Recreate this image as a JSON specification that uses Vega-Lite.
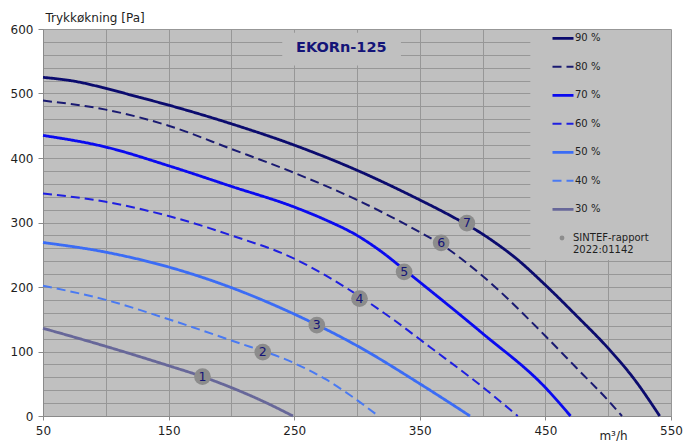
{
  "$schema": "https://vega.github.io/schema/vega-lite/v6.json",
  "width": 628,
  "height": 387,
  "autosize": {"type": "none"},
  "padding": {"left": 43, "top": 29, "right": 13, "bottom": 25},
  "background": "white",
  "config": {
    "view": {"fill": "#c0c0c0", "stroke": null},
    "font": "DejaVu Sans",
    "text": {"font": "DejaVu Sans"}
  },
  "resolve": {"axis": {"x": "independent", "y": "independent"}},
  "datasets": {
    "curves": [
      {"s": "90 %", "x": 50, "y": 525}, {"s": "90 %", "x": 75, "y": 519}, {"s": "90 %", "x": 100, "y": 508}, {"s": "90 %", "x": 125, "y": 495}, {"s": "90 %", "x": 150, "y": 482}, {"s": "90 %", "x": 200, "y": 453}, {"s": "90 %", "x": 250, "y": 420}, {"s": "90 %", "x": 300, "y": 381}, {"s": "90 %", "x": 350, "y": 335}, {"s": "90 %", "x": 375, "y": 310}, {"s": "90 %", "x": 400, "y": 282}, {"s": "90 %", "x": 412, "y": 266}, {"s": "90 %", "x": 425, "y": 247}, {"s": "90 %", "x": 450, "y": 203}, {"s": "90 %", "x": 475, "y": 155}, {"s": "90 %", "x": 500, "y": 105}, {"s": "90 %", "x": 520, "y": 59}, {"s": "90 %", "x": 541, "y": 0},
      {"s": "80 %", "x": 50, "y": 489}, {"s": "80 %", "x": 100, "y": 475}, {"s": "80 %", "x": 150, "y": 450}, {"s": "80 %", "x": 200, "y": 414}, {"s": "80 %", "x": 250, "y": 377}, {"s": "80 %", "x": 300, "y": 335}, {"s": "80 %", "x": 350, "y": 285}, {"s": "80 %", "x": 367, "y": 266}, {"s": "80 %", "x": 400, "y": 217}, {"s": "80 %", "x": 450, "y": 124}, {"s": "80 %", "x": 475, "y": 74}, {"s": "80 %", "x": 500, "y": 24}, {"s": "80 %", "x": 511, "y": 0},
      {"s": "70 %", "x": 50, "y": 435}, {"s": "70 %", "x": 100, "y": 417}, {"s": "70 %", "x": 150, "y": 388}, {"s": "70 %", "x": 200, "y": 356}, {"s": "70 %", "x": 250, "y": 324}, {"s": "70 %", "x": 275, "y": 304}, {"s": "70 %", "x": 300, "y": 280}, {"s": "70 %", "x": 320, "y": 254}, {"s": "70 %", "x": 337.5, "y": 227}, {"s": "70 %", "x": 358, "y": 195}, {"s": "70 %", "x": 400, "y": 128}, {"s": "70 %", "x": 450, "y": 44}, {"s": "70 %", "x": 470, "y": 0},
      {"s": "60 %", "x": 50, "y": 345}, {"s": "60 %", "x": 100, "y": 332}, {"s": "60 %", "x": 150, "y": 310}, {"s": "60 %", "x": 200, "y": 280}, {"s": "60 %", "x": 250, "y": 244}, {"s": "60 %", "x": 275, "y": 218}, {"s": "60 %", "x": 300, "y": 188}, {"s": "60 %", "x": 330, "y": 148}, {"s": "60 %", "x": 358, "y": 107}, {"s": "60 %", "x": 400, "y": 45}, {"s": "60 %", "x": 428, "y": 0},
      {"s": "50 %", "x": 50, "y": 269}, {"s": "50 %", "x": 100, "y": 254}, {"s": "50 %", "x": 150, "y": 231}, {"s": "50 %", "x": 200, "y": 199}, {"s": "50 %", "x": 250, "y": 158}, {"s": "50 %", "x": 300, "y": 109}, {"s": "50 %", "x": 350, "y": 50}, {"s": "50 %", "x": 390, "y": 0},
      {"s": "40 %", "x": 50, "y": 202}, {"s": "40 %", "x": 100, "y": 180}, {"s": "40 %", "x": 150, "y": 150}, {"s": "40 %", "x": 200, "y": 117}, {"s": "40 %", "x": 250, "y": 82}, {"s": "40 %", "x": 275, "y": 57}, {"s": "40 %", "x": 294, "y": 33}, {"s": "40 %", "x": 317, "y": 0},
      {"s": "30 %", "x": 50, "y": 136}, {"s": "30 %", "x": 100, "y": 108}, {"s": "30 %", "x": 150, "y": 78}, {"s": "30 %", "x": 177, "y": 61}, {"s": "30 %", "x": 200, "y": 44}, {"s": "30 %", "x": 225, "y": 23}, {"s": "30 %", "x": 249, "y": 0}
    ],
    "points": [
      {"n": "1", "x": 177, "y": 61, "src": "SINTEF-rapport|2022:01142"},
      {"n": "2", "x": 225, "y": 99, "src": "SINTEF-rapport|2022:01142"},
      {"n": "3", "x": 268, "y": 141, "src": "SINTEF-rapport|2022:01142"},
      {"n": "4", "x": 302, "y": 182, "src": "SINTEF-rapport|2022:01142"},
      {"n": "5", "x": 337.5, "y": 223.5, "src": "SINTEF-rapport|2022:01142"},
      {"n": "6", "x": 367, "y": 268.5, "src": "SINTEF-rapport|2022:01142"},
      {"n": "7", "x": 387.5, "y": 299, "src": "SINTEF-rapport|2022:01142"}
    ]
  },
  "layer": [
    {
      "data": {"values": [{}]},
      "mark": {"type": "rect", "fill": "#c0c0c0"},
      "encoding": {
        "x": {"datum": 438, "type": "quantitative",
          "axis": {"orient": "bottom", "values": [50, 100, 150, 200, 250, 300, 350, 400, 450, 500, 550], "grid": true, "gridColor": "#979797", "gridWidth": 1, "labels": false, "ticks": false, "domain": false, "title": null}},
        "x2": {"datum": 550},
        "y": {"datum": 242, "type": "quantitative",
          "axis": {"orient": "left", "values": [0, 20, 40, 60, 80, 100, 120, 140, 160, 180, 200, 220, 240, 260, 280, 300, 320, 340, 360, 380, 400, 420, 440, 460, 480, 500, 520, 540, 560, 580, 600], "grid": true, "gridColor": "#979797", "gridWidth": 1, "labels": false, "ticks": false, "domain": false, "title": null}},
        "y2": {"datum": 598.5}
      }
    },
    {
      "data": {"values": [{}]},
      "mark": {"type": "rect", "fill": "#c0c0c0"},
      "encoding": {
        "x": {"datum": 240.5, "type": "quantitative", "axis": null},
        "x2": {"datum": 335},
        "y": {"datum": 543.5, "type": "quantitative", "axis": null},
        "y2": {"datum": 594}
      }
    },
    {
      "data": {"name": "curves"},
      "mark": {"type": "line", "interpolate": "monotone"},
      "encoding": {
        "x": {
          "field": "x", "type": "quantitative",
          "scale": {"domain": [50, 550], "nice": false, "zero": false},
          "axis": {
            "orient": "bottom",
            "title": "m³/h",
            "values": [50, 150, 250, 350, 450, 550],
            "grid": false,
            "domainColor": "#8a8a8a", "tickColor": "#8a8a8a", "tickSize": 4,
            "labelPadding": 5, "labelFontSize": 12, "labelColor": "#1e1e1e",
            "labelFlush": false, "labelOverlap": false,
            "titleX": 570, "titleY": 19, "titleAlign": "center", "titleBaseline": "middle",
            "titleFontWeight": "normal", "titleFontSize": 12, "titleColor": "#1e1e1e"
          }
        },
        "y": {
          "field": "y", "type": "quantitative",
          "scale": {"domain": [0, 600], "nice": false},
          "axis": {
            "orient": "left",
            "title": "Trykkøkning [Pa]",
            "values": [0, 100, 200, 300, 400, 500, 600],
            "grid": false,
            "domainColor": "#8a8a8a", "tickColor": "#8a8a8a", "tickSize": 5,
            "labelPadding": 5, "labelFontSize": 12, "labelColor": "#1e1e1e", "labelOverlap": false, "labelFlush": false,
            "titleAngle": 0, "titleAlign": "left", "titleBaseline": "middle", "titleX": 2, "titleY": -12,
            "titleFontWeight": "normal", "titleFontSize": 12, "titleColor": "#1e1e1e"
          }
        },
        "color": {
          "field": "s", "type": "nominal",
          "scale": {"domain": ["90 %", "80 %", "70 %", "60 %", "50 %", "40 %", "30 %"], "range": ["#0b0b6e", "#1a1a72", "#0a0aef", "#1f1fe0", "#3b6cf5", "#4a7af2", "#676799"]},
          "legend": {
            "orient": "none", "legendX": 508, "legendY": -4.5, "title": null,
            "symbolType": "stroke", "symbolSize": 441, "labelFontSize": 10, "labelColor": "#1e1e1e",
            "labelOffset": 0, "clipHeight": 27.7, "rowPadding": 0.5, "padding": 0
          }
        },
        "strokeDash": {
          "field": "s", "type": "nominal",
          "scale": {"domain": ["90 %", "80 %", "70 %", "60 %", "50 %", "40 %", "30 %"], "range": [[1, 0], [9, 5], [1, 0], [9, 5], [1, 0], [9, 5], [1, 0]]},
          "legend": null
        },
        "strokeWidth": {
          "field": "s", "type": "nominal",
          "scale": {"type": "ordinal", "domain": ["90 %", "80 %", "70 %", "60 %", "50 %", "40 %", "30 %"], "range": [2.8, 2, 2.8, 2, 2.8, 2, 2.8]},
          "legend": null
        }
      }
    },
    {
      "data": {"name": "points"},
      "mark": {"type": "point", "filled": true, "color": "#8c8c8c", "size": 280, "opacity": 1},
      "encoding": {
        "x": {"field": "x", "type": "quantitative", "axis": null},
        "y": {"field": "y", "type": "quantitative", "axis": null},
        "shape": {
          "field": "src", "type": "nominal",
          "scale": {"range": ["circle"]},
          "legend": {
            "orient": "none", "legendX": 514, "legendY": 204, "title": null,
            "symbolType": "circle", "symbolSize": 24, "symbolFillColor": "#8c8c8c", "symbolStrokeWidth": 0,
            "labelFontSize": 10, "labelColor": "#1e1e1e", "labelOffset": 6,
            "labelExpr": "split(datum.label, '|')", "labelBaseline": "middle", "padding": 0
          }
        }
      }
    },
    {
      "data": {"name": "points"},
      "mark": {"type": "text", "color": "#141478", "fontSize": 12.5, "baseline": "middle", "align": "center"},
      "encoding": {
        "x": {"field": "x", "type": "quantitative", "axis": null},
        "y": {"field": "y", "type": "quantitative", "axis": null},
        "text": {"field": "n"}
      }
    },
    {
      "data": {"values": [{}]},
      "mark": {"type": "text", "color": "#141478", "fontSize": 14.5, "fontWeight": "bold", "baseline": "middle", "align": "center"},
      "encoding": {
        "x": {"datum": 287.5, "type": "quantitative", "axis": null},
        "y": {"datum": 571, "type": "quantitative", "axis": null},
        "text": {"value": "EKORn-125"}
      }
    }
  ]
}
